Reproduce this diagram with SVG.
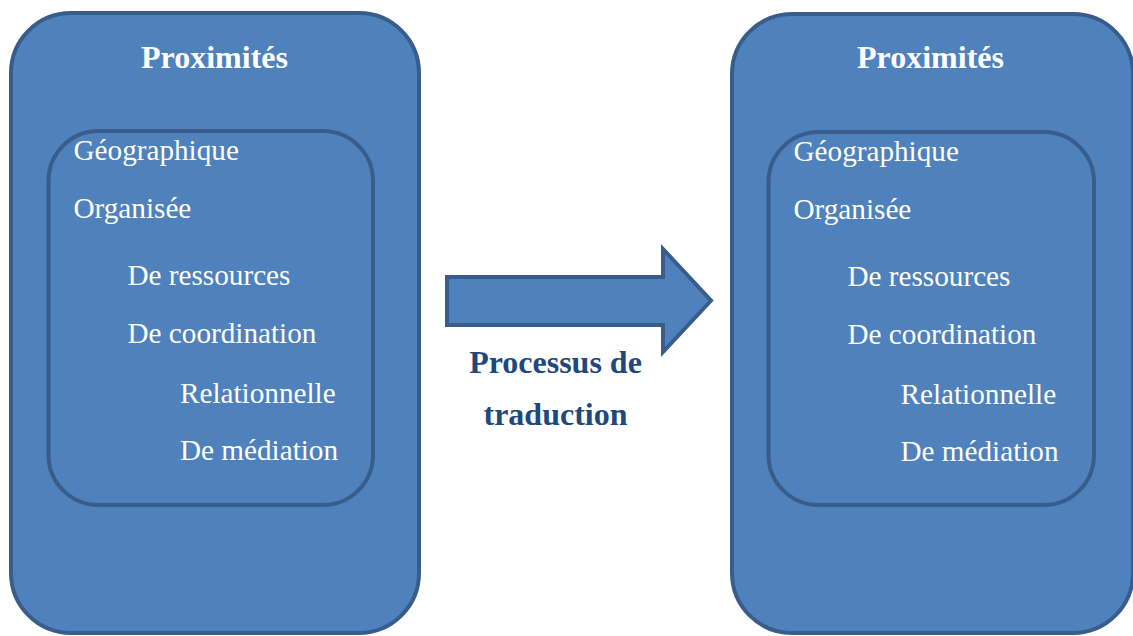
<svg xmlns="http://www.w3.org/2000/svg" width="1133" height="636" viewBox="0 0 1133 636">
<style>
.box{fill:#4F81BD;stroke:#385D8A;stroke-width:4}
.title{font-family:"Liberation Serif","Times New Roman",serif;font-weight:bold;font-size:32px;fill:#FFFFFF;text-anchor:middle}
.item{font-family:"Liberation Serif","Times New Roman",serif;font-size:29.2px;fill:#FFFFFF}
.label{font-family:"Liberation Serif","Times New Roman",serif;font-weight:bold;font-size:32px;fill:#1F497D;text-anchor:middle}
</style>
<rect width="1133" height="636" fill="#FFFFFF"/>
<g id="left-box">
<rect class="box" x="11" y="13" width="408" height="620" rx="60" ry="60"/>
<text class="title" x="214.5" y="68">Proximités</text>
<rect class="box" x="48.5" y="131" width="324.5" height="374" rx="50" ry="50"/>
<text class="item" x="73.5" y="159.5">Géographique</text>
<text class="item" x="73.5" y="217.5">Organisée</text>
<text class="item" x="127.5" y="285">De ressources</text>
<text class="item" x="127.5" y="342.5">De coordination</text>
<text class="item" x="180" y="403">Relationnelle</text>
<text class="item" x="180" y="460">De médiation</text>
</g>
<g id="right-box">
<rect class="box" x="732" y="14" width="401" height="619" rx="60" ry="60"/>
<text class="title" x="930.5" y="68">Proximités</text>
<rect class="box" x="768.5" y="132" width="325.5" height="373" rx="50" ry="50"/>
<text class="item" x="793.5" y="160.5">Géographique</text>
<text class="item" x="793.5" y="218.5">Organisée</text>
<text class="item" x="847.5" y="285.5">De ressources</text>
<text class="item" x="847.5" y="344">De coordination</text>
<text class="item" x="900.5" y="404">Relationnelle</text>
<text class="item" x="900.5" y="460.5">De médiation</text>
</g>
<g id="connectors">
<polygon class="box" points="447,277 663,277 663,249 711,300.5 663,352 663,325 447,325"/>
<text class="label" x="555.5" y="372.5">Processus de</text>
<text class="label" x="555.5" y="425">traduction</text>
</g>
</svg>
